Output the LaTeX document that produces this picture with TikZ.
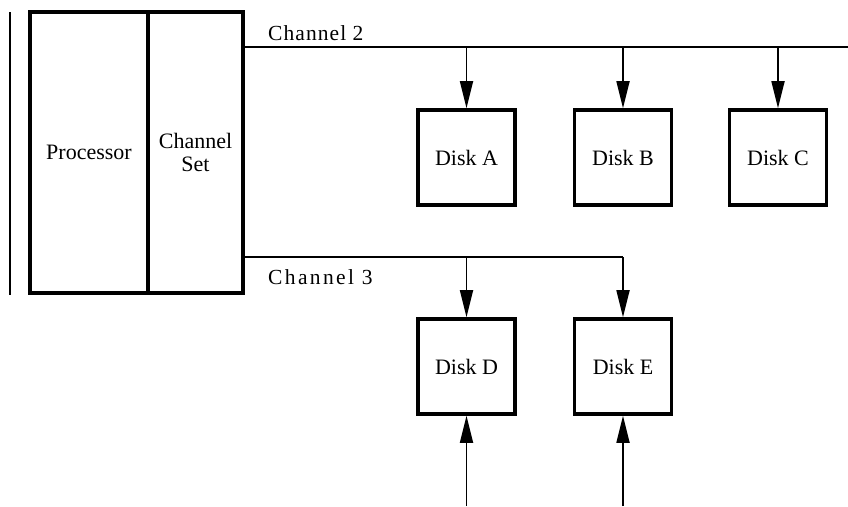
\documentclass[tikz,border=0pt]{standalone}
\usepackage{fontspec}
\setmainfont{Liberation Serif}
\usetikzlibrary{arrows.meta}
\tikzset{
  box/.style={draw, line width=3.6pt, inner sep=0pt, font=\fontsize{22}{25}\selectfont, align=center},
  disk/.style={box, minimum width=97pt, minimum height=95pt},
  bus/.style={line width=1.8pt},
  feed/.style={bus, -{Triangle[length=27pt,width=13pt]}},
  chlabel/.style={anchor=west, inner sep=0pt, font=\fontsize{21.5}{24}\selectfont\addfontfeatures{LetterSpace=#1}},
  chlabel/.default=5
}
\begin{document}
\begin{tikzpicture}[x=1pt,y=-1pt]
\useasboundingbox (0,0) rectangle (848,506);
% host: processor and channel set
\node[box, minimum width=118pt, minimum height=281pt] (proc) at (89,152.5) {Processor};
\node[box, minimum width=95pt, minimum height=281pt] (chset) at (195.5,152.5) {Channel\\[-2pt]Set};
\coordinate (lt) at (10,12);
\coordinate (lb) at (10,295);
\draw[line width=2.6pt] (lt) -- (lb);
% disks
\node[disk] (dA) at (466.5,157.5) {Disk A};
\node[disk] (dB) at (623,157.5) {Disk B};
\node[disk] (dC) at (778,157.5) {Disk C};
\node[disk] (dD) at (466.5,366.5) {Disk D};
\node[disk] (dE) at (623,366.5) {Disk E};
% channel 2
\coordinate (c2) at (848,47);
\draw[bus] (chset.east |- c2) -- (c2);
\node[chlabel] (l2) at (268,33) {Channel 2};
\draw[feed] (dA.north |- c2) -- (dA.north);
\draw[feed] (dB.north |- c2) -- (dB.north);
\draw[feed] (dC.north |- c2) -- (dC.north);
% channel 3
\coordinate (c3) at (400,257);
\draw[bus] (chset.east |- c3) -- (dE.north |- c3);
\draw[feed] (dE.north |- c3) -- (dE.north);
\node[chlabel=11] (l3) at (268,277) {Channel 3};
\draw[feed] (dD.north |- c3) -- (dD.north);
% second path from below
\coordinate (bD) at (466.5,506);
\coordinate (bE) at (623,506);
\draw[feed] (bD) -- (dD.south);
\draw[feed] (bE) -- (dE.south);
\end{tikzpicture}
\end{document}
